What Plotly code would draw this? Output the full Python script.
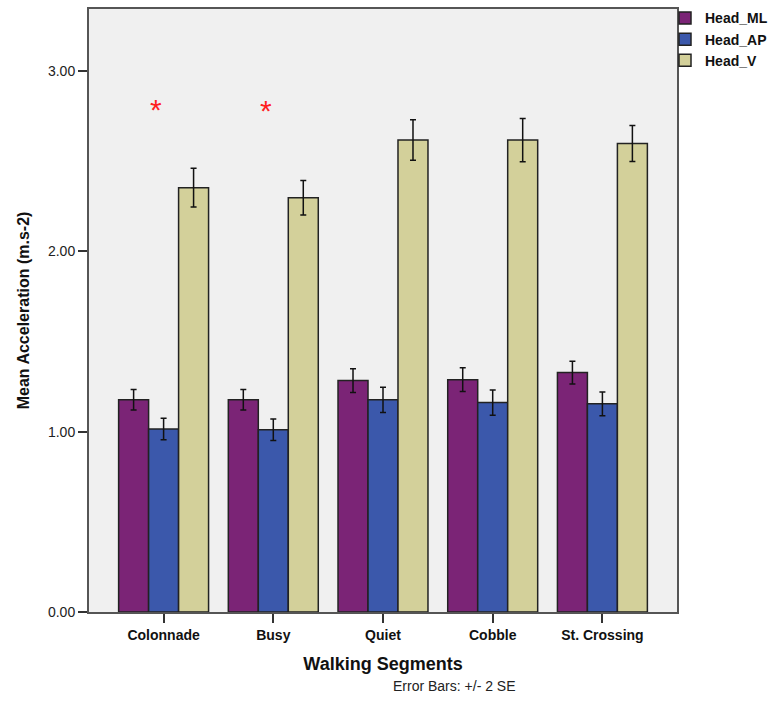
import plotly.graph_objects as go

categories = ["Colonnade", "Busy", "Quiet", "Cobble", "St. Crossing"]
series_names = ["Head_ML", "Head_AP", "Head_V"]
head_ml = [1.177, 1.177, 1.284, 1.289, 1.328]
head_ml_err = [0.057, 0.057, 0.066, 0.066, 0.063]
head_ap = [1.015, 1.011, 1.177, 1.162, 1.155]
head_ap_err = [0.060, 0.060, 0.070, 0.070, 0.066]
head_v = [2.354, 2.298, 2.618, 2.618, 2.599]
head_v_err = [0.107, 0.096, 0.112, 0.120, 0.100]
star_categories = [0, 1]
star_values = [2.79, 2.78]
y_ticks = [0.0, 1.0, 2.0, 3.0]
y_tick_labels = ["0.00", "1.00", "2.00", "3.00"]

colors = ["#7B2476", "#3B58AB", "#D3D09A"]
values = [head_ml, head_ap, head_v]
errors = [head_ml_err, head_ap_err, head_v_err]

FONT = "Liberation Sans, Arial, sans-serif"

fig = go.Figure()
for name, vals, errs, col in zip(series_names, values, errors, colors):
    fig.add_trace(go.Bar(
        x=list(range(len(categories))), y=vals, name=name,
        marker=dict(color=col, line=dict(color="#222222", width=1.5)),
        error_y=dict(type="data", array=errs, visible=True,
                     color="#111111", thickness=1.5, width=3),
    ))

for ci, v in zip(star_categories, star_values):
    fig.add_annotation(x=ci - 0.07, y=v, xref="x", yref="y", text="*",
                       showarrow=False, font=dict(color="#FF2020", size=30, family=FONT))

fig.add_annotation(x=0.622, y=-0.122, xref="paper", yref="paper",
                   xanchor="center", yanchor="middle",
                   text="Error Bars: +/- 2 SE", showarrow=False,
                   font=dict(size=14, color="#222222", family=FONT))

fig.update_layout(
    width=774, height=726,
    margin=dict(l=89, r=97, t=9, b=114, autoexpand=False),
    paper_bgcolor="white", plot_bgcolor="#F0F0F0",
    barmode="group", bargap=0.18, bargroupgap=0,
    font=dict(family=FONT, color="#111111"),
    showlegend=True,
    legend=dict(x=0.9796, y=1.011, xanchor="left", yanchor="top",
                font=dict(size=14, weight="bold", family=FONT, color="#111111"),
                bgcolor="rgba(0,0,0,0)", tracegroupgap=0, itemwidth=30,
                traceorder="normal"),
    xaxis=dict(
        tickmode="array", tickvals=list(range(len(categories))), ticktext=categories,
        range=[-0.68, 4.68], showgrid=False, zeroline=False,
        ticks="outside", ticklen=9, tickcolor="#333333", tickwidth=1.5,
        showline=True, linecolor="#555555", linewidth=2, mirror=True,
        tickfont=dict(size=14, weight="bold", family=FONT, color="#111111"),
        title=dict(text="Walking Segments", standoff=16,
                   font=dict(size=18, weight="bold", family=FONT, color="#111111")),
    ),
    yaxis=dict(
        tickmode="array", tickvals=y_ticks, ticktext=y_tick_labels,
        range=[0, 3.345], showgrid=False, zeroline=False,
        ticks="outside", ticklen=9, tickcolor="#333333", tickwidth=1.5,
        showline=True, linecolor="#555555", linewidth=2, mirror=True,
        tickfont=dict(size=14, family=FONT, color="#222222"),
        title=dict(text="Mean Acceleration (m.s-2)", standoff=14,
                   font=dict(size=16, weight="bold", family=FONT, color="#111111")),
    ),
)

fig.write_html("out.html")
